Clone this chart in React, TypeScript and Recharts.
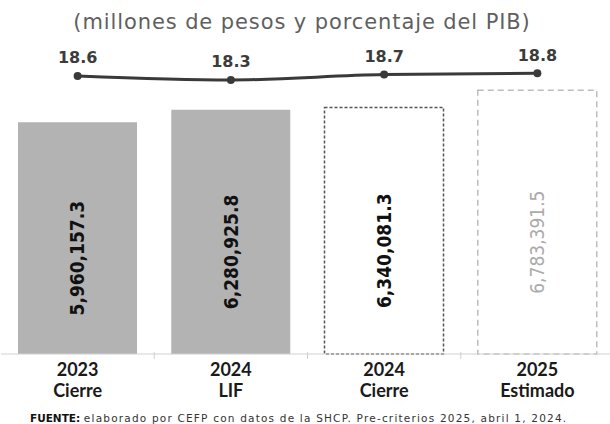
import React from "react";
import { ComposedChart, Bar, Line, XAxis, YAxis, Cell, LabelList } from "recharts";

const categories = ["2023|Cierre", "2024|LIF", "2024|Cierre", "2025|Estimado"];
const amounts = [5960157.3, 6280925.8, 6340081.3, 6783391.5];
const amountLabels = ["5,960,157.3", "6,280,925.8", "6,340,081.3", "6,783,391.5"];
const pibPct = [18.6, 18.3, 18.7, 18.8];
const pibLabels = ["18.6", "18.3", "18.7", "18.8"];

const data = categories.map((c, i) => ({
  cat: c,
  amount: amounts[i],
  amountLabel: amountLabels[i],
  pct: pibPct[i],
  pctLabel: pibLabels[i],
}));

const cellStyles = [
  { fill: "#b3b3b3", stroke: "none", strokeDasharray: undefined, strokeWidth: 0 },
  { fill: "#b3b3b3", stroke: "none", strokeDasharray: undefined, strokeWidth: 0 },
  { fill: "#ffffff", stroke: "#555555", strokeDasharray: "3 2", strokeWidth: 1.5 },
  { fill: "#ffffff", stroke: "#bdbdbd", strokeDasharray: "6 4", strokeWidth: 1.5 },
];

const CHART_W = 614;
const MARGIN_L = 1;
const MARGIN_R = 0;
const BAND = (CHART_W - MARGIN_L - MARGIN_R) / categories.length;

const XTick = (props: any) => {
  const { x, y, payload, index } = props;
  const [l1, l2] = String(payload.value).split("|");
  return (
    <g>
      {index > 0 && (
        <line x1={x - BAND / 2} x2={x - BAND / 2} y1={y - 2} y2={y + 5} stroke="#d0d0d0" strokeWidth={1} />
      )}
      <text x={x} y={y + 22} textAnchor="middle" fontFamily="Lato, 'DejaVu Sans', sans-serif" fontWeight={700} fontSize={18} fill="#1a1a1a">
        {l1}
      </text>
      <text x={x} y={y + 43} textAnchor="middle" fontFamily="Lato, 'DejaVu Sans', sans-serif" fontWeight={700} fontSize={18} fill="#1a1a1a">
        {l2}
      </text>
    </g>
  );
};

const BarValueLabel = (props: any) => {
  const { x, y, width, height, value, index } = props;
  const cx = x + width / 2;
  const cy = y + height / 2 + 20;
  const last = index === 3;
  return (
    <text
      x={cx}
      y={cy}
      transform={`rotate(-90 ${cx} ${cy})`}
      textAnchor="middle"
      dominantBaseline="central"
      fontFamily="'DejaVu Sans Condensed', 'DejaVu Sans', sans-serif"
      fontWeight={last ? 400 : 700}
      fontSize={19}
      fill={last ? "#ababab" : "#111111"}
    >
      {value}
    </text>
  );
};

const PctLabel = (props: any) => {
  const { x, y, value } = props;
  return (
    <text x={x} y={y - 18} textAnchor="middle" dominantBaseline="central" fontFamily="'DejaVu Sans', sans-serif" fontWeight={700} fontSize={16} fill="#3c3c3c">
      {value}
    </text>
  );
};

export default function App() {
  return (
    <div style={{ position: "absolute", left: 0, top: 0, width: 610, height: 424, overflow: "hidden", background: "#ffffff" }}>
      <div
        style={{
          position: "absolute",
          left: 0,
          top: 8,
          width: 604,
          textAlign: "center",
          fontFamily: "'DejaVu Sans', sans-serif",
          fontSize: 21,
          letterSpacing: 0.9,
          color: "#5f5f5f",
          lineHeight: "28px",
        }}
      >
        (millones de pesos y porcentaje del PIB)
      </div>
      <ComposedChart
        width={CHART_W}
        height={424}
        data={data}
        margin={{ top: 43, right: MARGIN_R, bottom: 0, left: MARGIN_L }}
      >
        <XAxis
          dataKey="cat"
          xAxisId="x"
          height={70}
          interval={0}
          tickLine={false}
          tickSize={0}
          tickMargin={0}
          axisLine={{ stroke: "#d0d0d0", strokeWidth: 1 }}
          tick={<XTick />}
        />
        <YAxis yAxisId="amt" hide domain={[0, 8000000]} />
        <YAxis yAxisId="pct" hide orientation="right" domain={[-2.15, 21.06]} />
        <Bar dataKey="amount" xAxisId="x" yAxisId="amt" barSize={119} isAnimationActive={false}>
          {data.map((d, i) => (
            <Cell
              key={d.cat}
              fill={cellStyles[i].fill}
              stroke={cellStyles[i].stroke}
              strokeDasharray={cellStyles[i].strokeDasharray}
              strokeWidth={cellStyles[i].strokeWidth}
            />
          ))}
          <LabelList dataKey="amountLabel" content={<BarValueLabel />} />
        </Bar>
        <Line
          type="monotone"
          dataKey="pct"
          xAxisId="x"
          yAxisId="pct"
          stroke="#3a3a3a"
          strokeWidth={3}
          dot={{ r: 4, fill: "#3a3a3a", stroke: "#3a3a3a", strokeWidth: 0 }}
          isAnimationActive={false}
        >
          <LabelList dataKey="pctLabel" content={<PctLabel />} />
        </Line>
      </ComposedChart>
      <div
        style={{
          position: "absolute",
          left: 30,
          top: 412,
          whiteSpace: "nowrap",
          fontFamily: "'DejaVu Sans', sans-serif",
          fontSize: 10.5,
          letterSpacing: 1.2,
          color: "#333333",
          lineHeight: "13px",
        }}
      >
        <span style={{ fontWeight: 700, color: "#111111", letterSpacing: 0 }}>FUENTE: </span>
        elaborado por CEFP con datos de la SHCP. Pre-criterios 2025, abril 1, 2024.
      </div>
    </div>
  );
}
